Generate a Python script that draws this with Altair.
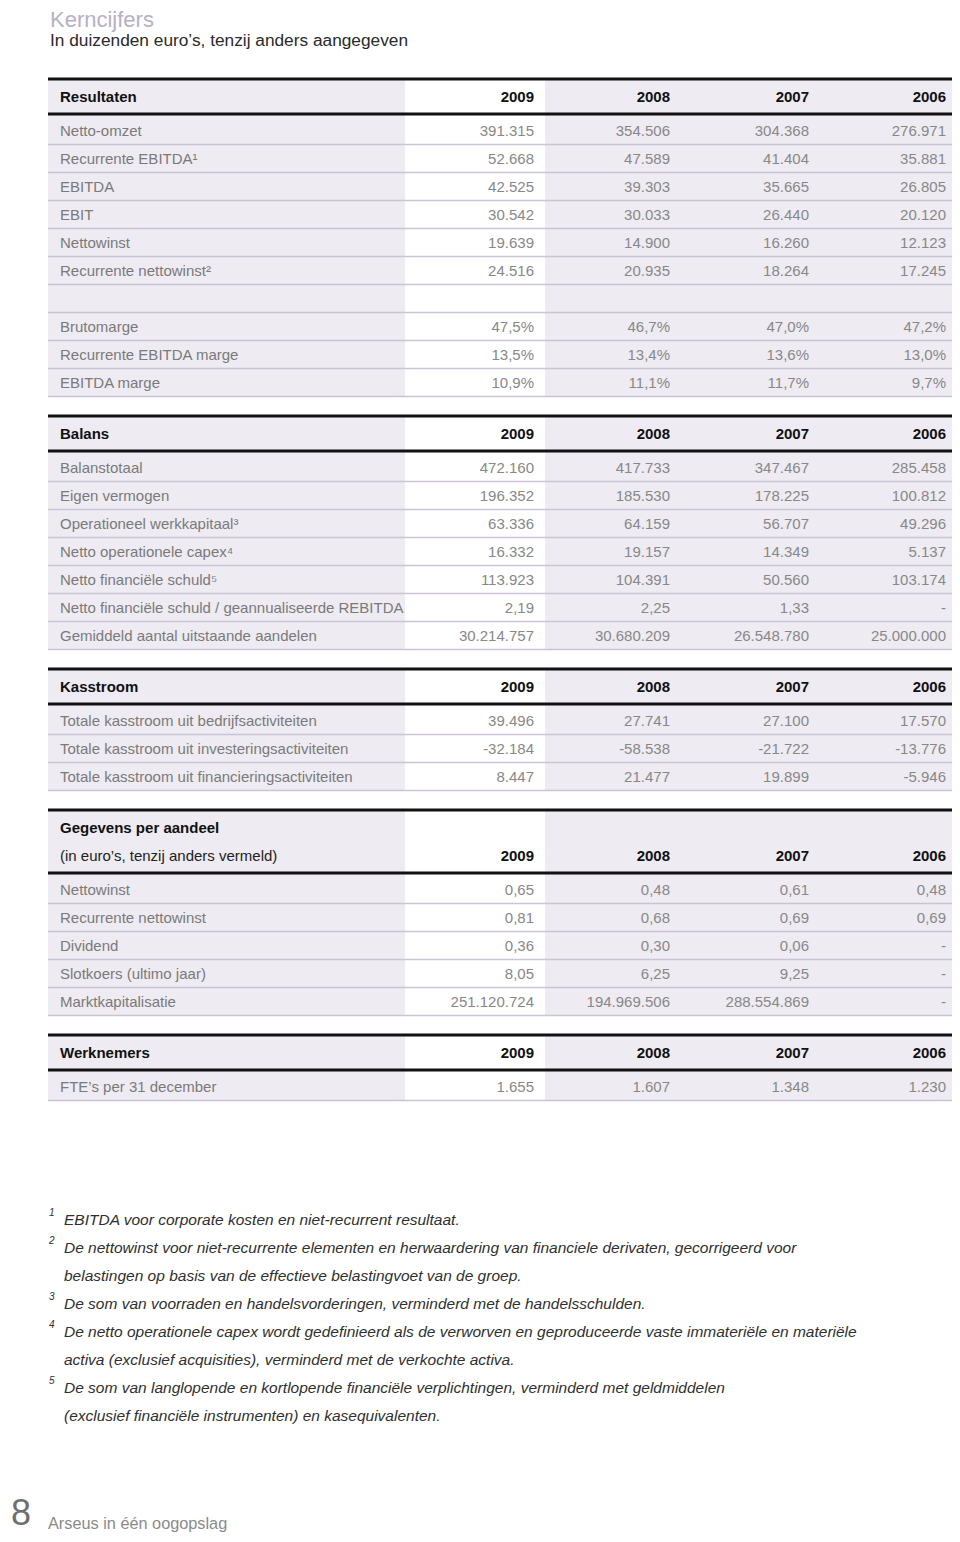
import altair as alt
import pandas as pd

# ---------------- data ----------------
title = "Kerncijfers"
subtitle = "In duizenden euro’s, tenzij anders aangegeven"
years = ["2009", "2008", "2007", "2006"]

res_labels = ["Netto-omzet", "Recurrente EBITDA¹", "EBITDA", "EBIT", "Nettowinst",
              "Recurrente nettowinst²", "", "Brutomarge", "Recurrente EBITDA marge", "EBITDA marge"]
res_2009 = ["391.315", "52.668", "42.525", "30.542", "19.639", "24.516", "", "47,5%", "13,5%", "10,9%"]
res_2008 = ["354.506", "47.589", "39.303", "30.033", "14.900", "20.935", "", "46,7%", "13,4%", "11,1%"]
res_2007 = ["304.368", "41.404", "35.665", "26.440", "16.260", "18.264", "", "47,0%", "13,6%", "11,7%"]
res_2006 = ["276.971", "35.881", "26.805", "20.120", "12.123", "17.245", "", "47,2%", "13,0%", "9,7%"]

bal_labels = ["Balanstotaal", "Eigen vermogen", "Operationeel werkkapitaal³",
              "Netto operationele capex⁴", "Netto financiële schuld⁵",
              "Netto financiële schuld / geannualiseerde REBITDA",
              "Gemiddeld aantal uitstaande aandelen"]
bal_2009 = ["472.160", "196.352", "63.336", "16.332", "113.923", "2,19", "30.214.757"]
bal_2008 = ["417.733", "185.530", "64.159", "19.157", "104.391", "2,25", "30.680.209"]
bal_2007 = ["347.467", "178.225", "56.707", "14.349", "50.560", "1,33", "26.548.780"]
bal_2006 = ["285.458", "100.812", "49.296", "5.137", "103.174", "-", "25.000.000"]

kas_labels = ["Totale kasstroom uit bedrijfsactiviteiten",
              "Totale kasstroom uit investeringsactiviteiten",
              "Totale kasstroom uit financieringsactiviteiten"]
kas_2009 = ["39.496", "-32.184", "8.447"]
kas_2008 = ["27.741", "-58.538", "21.477"]
kas_2007 = ["27.100", "-21.722", "19.899"]
kas_2006 = ["17.570", "-13.776", "-5.946"]

geg_labels = ["Nettowinst", "Recurrente nettowinst", "Dividend", "Slotkoers (ultimo jaar)", "Marktkapitalisatie"]
geg_2009 = ["0,65", "0,81", "0,36", "8,05", "251.120.724"]
geg_2008 = ["0,48", "0,68", "0,30", "6,25", "194.969.506"]
geg_2007 = ["0,61", "0,69", "0,06", "9,25", "288.554.869"]
geg_2006 = ["0,48", "0,69", "-", "-", "-"]

wer_labels = ["FTE’s per 31 december"]
wer_2009 = ["1.655"]
wer_2008 = ["1.607"]
wer_2007 = ["1.348"]
wer_2006 = ["1.230"]

sections = [
    (["Resultaten"], res_labels, [res_2009, res_2008, res_2007, res_2006]),
    (["Balans"], bal_labels, [bal_2009, bal_2008, bal_2007, bal_2006]),
    (["Kasstroom"], kas_labels, [kas_2009, kas_2008, kas_2007, kas_2006]),
    (["Gegevens per aandeel", "(in euro’s, tenzij anders vermeld)"], geg_labels,
     [geg_2009, geg_2008, geg_2007, geg_2006]),
    (["Werknemers"], wer_labels, [wer_2009, wer_2008, wer_2007, wer_2006]),
]

footnote_nums = ["1", "2", "", "3", "4", "", "5", ""]
footnote_lines = [
    "EBITDA voor corporate kosten en niet-recurrent resultaat.",
    "De nettowinst voor niet-recurrente elementen en herwaardering van financiele derivaten, gecorrigeerd voor",
    "belastingen op basis van de effectieve belastingvoet van de groep.",
    "De som van voorraden en handelsvorderingen, verminderd met de handelsschulden.",
    "De netto operationele capex wordt gedefinieerd als de verworven en geproduceerde vaste immateriële en materiële",
    "activa (exclusief acquisities), verminderd met de verkochte activa.",
    "De som van langlopende en kortlopende financiële verplichtingen, verminderd met geldmiddelen",
    "(exclusief financiële instrumenten) en kasequivalenten.",
]

page_number = "8"
footer_text = "Arseus in één oogopslag"

# ---------------- layout (page pixel grid) ----------------
FONT = "Liberation Sans"
W, H = 944, 1526          # chart sits at page (8, 8); page is exactly 960 x 1542
TABLE_L, TABLE_R = 48, 960
LABEL_X = 60
COL_LAB_R = 405
COL_WHITE_R = 545
VAL_RIGHT = [534, 670, 809, 946]
PITCH = 28
HEAD_TO_ROW = 34
ROW_TO_NEXT = 51

SHADE = "#eeebf2"
THIN = "#cbc4d6"

labels_rows, values_rows, hlab_rows, hsub_rows, hval_rows = [], [], [], [], []
rect_rows, thick_rows, thin_rows = [], [], []

y = 97
for head, labels, cols in sections:
    top = y - 18
    for i, h in enumerate(head):
        hy = y + PITCH * i
        if i == 0:
            hlab_rows.append(dict(x=LABEL_X, y=hy, t=h))
        else:
            hsub_rows.append(dict(x=LABEL_X, y=hy, t=h))
    hy_last = y + PITCH * (len(head) - 1)
    for j, yr in enumerate(years):
        hval_rows.append(dict(x=VAL_RIGHT[j], y=hy_last, t=yr))
    hl = hy_last + 17
    thick_rows.append(dict(x=TABLE_L, x2=TABLE_R, y=top))
    thick_rows.append(dict(x=TABLE_L, x2=TABLE_R, y=hl))
    ry = hy_last + HEAD_TO_ROW
    cy = ry
    for k, lab in enumerate(labels):
        cy = ry + PITCH * k
        labels_rows.append(dict(x=LABEL_X, y=cy, t=lab))
        for j in range(4):
            values_rows.append(dict(x=VAL_RIGHT[j], y=cy, t=cols[j][k]))
        thin_rows.append(dict(x=TABLE_L, x2=TABLE_R, y=cy + 13.5))
    bottom = cy + 13.5
    rect_rows.append(dict(x=TABLE_L, x2=COL_LAB_R, y=top, y2=bottom))
    rect_rows.append(dict(x=COL_WHITE_R, x2=TABLE_R, y=top, y2=bottom))
    y = cy + ROW_TO_NEXT

fn_rows, fnum_rows = [], []
for i, (n, line) in enumerate(zip(footnote_nums, footnote_lines)):
    ly = 1220 + PITCH * i
    fn_rows.append(dict(x=64, y=ly, t=line))
    if n:
        fnum_rows.append(dict(x=49, y=ly - 7, t=n))

xsc = alt.Scale(domain=[8, 8 + W], nice=False, zero=False)
ysc = alt.Scale(domain=[8, 8 + H], reverse=True, nice=False, zero=False)
X = alt.X("x:Q", scale=xsc, axis=None)
Y = alt.Y("y:Q", scale=ysc, axis=None)


def text_layer(rows, align="left", size=15, color="#7d7d7d", weight="normal", style="normal",
               baseline="middle"):
    return alt.Chart(pd.DataFrame(rows)).mark_text(
        align=align, baseline=baseline, font=FONT, fontSize=size, color=color,
        fontWeight=weight, fontStyle=style
    ).encode(x=X, y=Y, text="t:N")


rects = alt.Chart(pd.DataFrame(rect_rows)).mark_rect(color=SHADE).encode(
    x=X, x2="x2:Q", y=Y, y2="y2:Q")
thin = alt.Chart(pd.DataFrame(thin_rows)).mark_rule(color=THIN, strokeWidth=1.5).encode(
    x=X, x2="x2:Q", y=Y)
thick = alt.Chart(pd.DataFrame(thick_rows)).mark_rule(color="#111111", strokeWidth=3).encode(
    x=X, x2="x2:Q", y=Y)

layers = [
    rects, thin, thick,
    text_layer(labels_rows, color="#7a7a7a"),
    text_layer(values_rows, align="right", color="#888888"),
    text_layer(hlab_rows, color="#111111", weight="bold"),
    text_layer(hsub_rows, color="#222222"),
    text_layer(hval_rows, align="right", color="#111111", weight="bold"),
    text_layer([dict(x=50, y=27, t=title)], size=22, color="#b7afc6", baseline="alphabetic"),
    text_layer([dict(x=50, y=41, t=subtitle)], size=17.3, color="#2a2a2a"),
    text_layer(fn_rows, size=15.5, color="#2f2f2f", style="italic"),
    text_layer(fnum_rows, size=10, color="#2f2f2f", style="italic"),
    text_layer([dict(x=11, y=1514, t=page_number)], size=36, color="#6f6f6f"),
    text_layer([dict(x=48, y=1524, t=footer_text)], size=16.3, color="#8a8a8a"),
]

chart = alt.layer(*layers).properties(
    width=W, height=H, padding=0, autosize=alt.AutoSizeParams(type="none"),
    background="white"
).configure_view(stroke=None)

chart.save("out.html", embed_options={"renderer": "svg", "actions": False})
